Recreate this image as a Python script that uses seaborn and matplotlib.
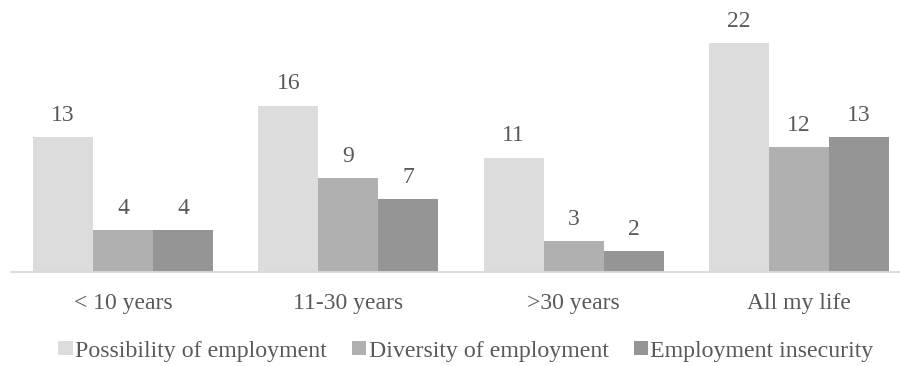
import matplotlib
matplotlib.use("Agg")
import matplotlib.pyplot as plt
import seaborn as sns
import pandas as pd
from matplotlib.patches import Patch

categories = ["< 10 years", "11-30 years", ">30 years", "All my life"]
series_names = ["Possibility of employment", "Diversity of employment", "Employment insecurity"]
possibility = [13, 16, 11, 22]
diversity = [4, 9, 3, 12]
insecurity = [4, 7, 2, 13]
colors = ["#dcdcdc", "#b0b0b0", "#959595"]
text_color = "#595959"

rows = []
for name, vals in zip(series_names, [possibility, diversity, insecurity]):
    for c, v in zip(categories, vals):
        rows.append({"category": c, "series": name, "value": v})
df = pd.DataFrame(rows)

sns.set_theme(style="white")
plt.rcParams["font.family"] = ["Liberation Serif", "DejaVu Serif"]

fig = plt.figure(figsize=(9, 3.66), dpi=100)
ax = fig.add_axes([10.5 / 900, (366 - 272) / 366, 901 / 900, 10.4 * 25 / 366])

sns.barplot(data=df, x="category", y="value", hue="series", order=categories,
            hue_order=series_names, palette=colors, width=0.8, saturation=1,
            linewidth=0, ax=ax, legend=False)

for cont in ax.containers:
    ax.bar_label(cont, padding=8, fontsize=17, color=text_color)

ax.set_xlim(-0.5, 3.5)
ax.set_ylim(0, 25)
ax.set_xlabel("")
ax.set_ylabel("")
ax.set_yticks([])
for s in ["top", "left", "right"]:
    ax.spines[s].set_visible(False)
ax.spines["bottom"].set_color("#d9d9d9")
ax.spines["bottom"].set_linewidth(1.3)
ax.tick_params(axis="x", length=0, pad=15, labelsize=17, labelcolor=text_color)

handles = [Patch(facecolor=c, edgecolor="none", label=n) for c, n in zip(colors, series_names)]
fig.legend(handles=handles, loc="center", bbox_to_anchor=(466 / 900, 1 - 351 / 366), ncol=3,
           frameon=False, fontsize=17.2, labelcolor=text_color, handlelength=0.6,
           handleheight=0.55, handletextpad=0.1, columnspacing=1.05,
           borderpad=0, borderaxespad=0)

fig.savefig("out.png", dpi=100)
